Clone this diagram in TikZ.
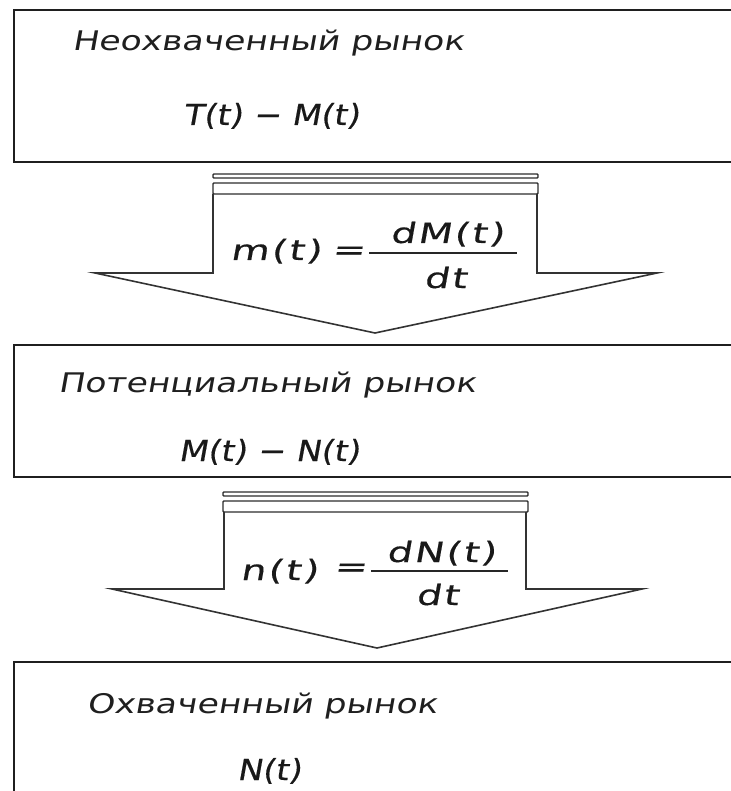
\documentclass[tikz,border=0pt]{standalone}
\usepackage{fontspec}
\newfontfamily\gfont{DejaVu Sans}[FakeSlant=0.18, FakeStretch=1.28]
\newfontfamily\ffont{DejaVu Sans}[FakeSlant=0.18, FakeStretch=1.15, FakeBold=0.4]
\newfontfamily\afont{DejaVu Sans}[FakeSlant=0.18, FakeStretch=1.4, LetterSpace=8, FakeBold=0.4]
\tikzset{
  boxline/.style={draw=black!88, line width=2.2pt},
  arrline/.style={draw=black!80, line width=1.6pt, line join=miter},
  barline/.style={draw=black!82, line width=1.4pt, rounded corners=0.8pt},
  fracbar/.style={draw=black!85, line width=1.4pt},
  ttl/.style={font=\gfont\fontsize{27}{31}\selectfont, text=black!88, inner sep=0pt, anchor=base},
  frm/.style={font=\ffont\fontsize{29}{33}\selectfont, text=black!90, inner sep=0pt, anchor=base},
  afrm/.style={font=\afont\fontsize{28}{32}\selectfont, text=black!90, inner sep=0pt}
}
\begin{document}
\begin{tikzpicture}[x=1pt,y=-1pt]
\useasboundingbox (0,0) rectangle (730,791);
\fill[white] (0,0) rectangle (730,791);
% boxes
\coordinate (b1nw) at (14,10); \coordinate (b1se) at (745,162);
\coordinate (b2nw) at (14,345); \coordinate (b2se) at (745,477);
\coordinate (b3nw) at (14,662); \coordinate (b3se) at (745,805);
\draw[boxline] (b1nw) rectangle (b1se);
\draw[boxline] (b2nw) rectangle (b2se);
\draw[boxline] (b3nw) rectangle (b3se);
% texts
\node[ttl] (t1) at (268,51) {Неохваченный рынок};
\node[frm] (f1) at (271,125) {T(t) − M(t)};
\node[ttl] (t2) at (267,392) {Потенциальный рынок};
\node[frm] (f2) at (269,461) {M(t) − N(t)};
\node[ttl] (t3) at (262,713) {Охваченный рынок};
\node[frm] (f3) at (269,780) {N(t)};
% arrow 1
\draw[barline] (213,174) rectangle (538,178);
\draw[barline] (213,183) rectangle (538,194);
\draw[arrline] (213,194) -- (213,273) -- (95,273) -- (375,333) -- (657,273) -- (537,273) -- (537,194);
\node[afrm, anchor=base west] (a1l) at (230,260) {m(t)};
\node[afrm, anchor=center] (a1e) at (348,253) {=};
\coordinate (a1b1) at (369,253); \coordinate (a1b2) at (517,253);
\draw[fracbar] (a1b1) -- (a1b2);
\node[afrm, anchor=base] (a1n) at (447,243) {dM(t)};
\node[afrm, anchor=base] (a1d) at (445,288) {dt};
% arrow 2
\draw[barline] (223,492) rectangle (528,496);
\draw[barline] (223,501) rectangle (528,512);
\draw[arrline] (224,512) -- (224,589) -- (112,589) -- (377,648) -- (642,589) -- (526,589) -- (526,512);
\node[afrm, anchor=base west] (a2l) at (240,580) {n(t)};
\node[afrm, anchor=center] (a2e) at (350,570) {=};
\coordinate (a2b1) at (371,571); \coordinate (a2b2) at (508,571);
\draw[fracbar] (a2b1) -- (a2b2);
\node[afrm, anchor=base] (a2n) at (441,562) {dN(t)};
\node[afrm, anchor=base] (a2d) at (437,605) {dt};
\end{tikzpicture}
\end{document}
